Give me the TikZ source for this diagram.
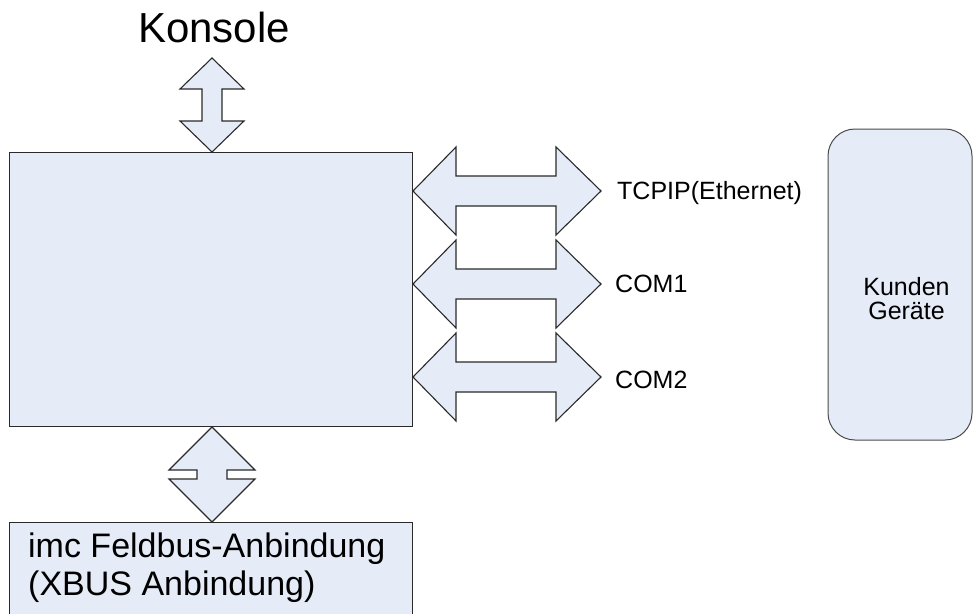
\documentclass[tikz,border=0pt]{standalone}
\usepackage{fontspec}
\setmainfont{Liberation Sans}
\definecolor{boxfill}{HTML}{E6ECF7}
\definecolor{boxline}{HTML}{2A2A2A}
\begin{document}
\begin{tikzpicture}[x=1pt,y=-1pt,
  box/.style={draw=boxline, fill=boxfill, line width=1.2pt, inner sep=0pt, anchor=north west},
  busarrow/.style={draw=boxline, fill=boxfill, line width=1.1pt, line join=miter},
  lbl/.style={inner sep=0pt, anchor=base west, font=\fontsize{25}{30}\selectfont},
  % horizontal double block arrow, origin at the left tip
  hbus/.pic={\draw[busarrow] (0,0) -- (43,-44) -- (43,-15) -- (143,-15) -- (143,-44)
      -- (188,0) -- (143,44) -- (143,15) -- (43,15) -- (43,44) -- cycle;},
  % vertical double block arrow towards the console, origin at the upper tip
  vbustop/.pic={\draw[busarrow] (0,0) -- (32,31) -- (10,31) -- (10,63) -- (32,63)
      -- (0,94) -- (-32,63) -- (-10,63) -- (-10,31) -- (-32,31) -- cycle;},
  % short vertical double block arrow towards the field bus, origin at the upper tip
  vbusbot/.pic={\draw[busarrow] (0,0) -- (43,43) -- (15,43) -- (15,52) -- (43,52)
      -- (0,95) -- (-43,52) -- (-15,52) -- (-15,43) -- (-43,43) -- cycle;}
]
\useasboundingbox (0,0) rectangle (973,613);
\clip (0,0) rectangle (973,613);
\fill[white] (0,0) rectangle (973,613);

% central unit
\node[box, minimum width=403pt, minimum height=274pt] (main) at (9,152) {};

% console
\node[inner sep=0pt, anchor=base, font=\fontsize{42}{50}\selectfont] (konsole) at (214,42) {Konsole};
\coordinate (ctop) at (212,58);
\pic at (ctop) {vbustop};

% field bus connection
\node[box, minimum width=403pt, minimum height=110pt] (feld) at (9,522) {};
\node[inner sep=0pt, anchor=base west, align=left, font=\fontsize{34}{38}\selectfont] (feldtxt) at (28,595)
  {imc Feldbus-Anbindung\\(XBUS Anbindung)};
\coordinate (fbtop) at (212,427);
\pic at (fbtop) {vbusbot};

% customer devices
\node[draw=boxline!85, fill=boxfill, line width=1pt, rounded corners=27pt, inner sep=0pt,
      minimum width=144pt, minimum height=311pt] (kunden) at (900,284.5) {};
\node[inner sep=0pt, anchor=base, align=center, font=\fontsize{25}{23.5}\selectfont] (kundentxt) at (906.5,319)
  {Kunden\\Geräte};

% interfaces
\coordinate (tcp) at (413,191);
\coordinate (com1) at (413,284);
\coordinate (com2) at (413,377);
\pic at (tcp) {hbus};
\pic at (com1) {hbus};
\pic at (com2) {hbus};
\node[lbl] (tcptxt) at (617,199) {TCPIP(Ethernet)};
\node[lbl] (com1txt) at (615,292) {COM1};
\node[lbl] (com2txt) at (615,388) {COM2};
\end{tikzpicture}
\end{document}
